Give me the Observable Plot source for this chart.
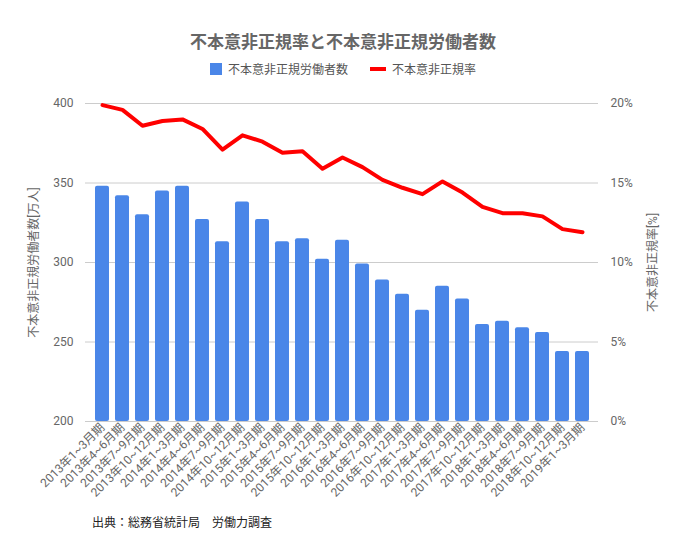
<!DOCTYPE html><html><head><meta charset="utf-8">
<script src="https://cdn.jsdelivr.net/npm/d3@7"></script>
<script src="https://cdn.jsdelivr.net/npm/@observablehq/plot@0.6"></script>
<style>body{margin:0;background:#fff;font-family:Roboto,"Noto Sans CJK JP",sans-serif;width:686px}
#t{text-align:center;font-size:17px;font-weight:bold;color:#666;padding-top:28px;height:32px}
#lg{text-align:center;font-size:12px;color:#555;height:28px}
#lg span{display:inline-block;vertical-align:middle}
#c{font-size:12px;color:#222;padding-left:92px;margin-top:0}</style></head><body>
<div id="t">不本意非正規率と不本意非正規労働者数</div>
<div id="lg"><span style="width:12px;height:12px;background:#4a86e8;margin-right:6px"></span><span>不本意非正規労働者数</span><span style="width:16px;height:4px;background:red;margin:0 6px 0 22px"></span><span>不本意非正規率</span></div>
<div id="p"></div>
<div id="c">出典：総務省統計局　労働力調査</div>
<script>
const quarters=["2013年1~3月期","2013年4~6月期","2013年7~9月期","2013年10~12月期","2014年1~3月期","2014年4~6月期","2014年7~9月期","2014年10~12月期","2015年1~3月期","2015年4~6月期","2015年7~9月期","2015年10~12月期","2016年1~3月期","2016年4~6月期","2016年7~9月期","2016年10~12月期","2017年1~3月期","2017年4~6月期","2017年7~9月期","2017年10~12月期","2018年1~3月期","2018年4~6月期","2018年7~9月期","2018年10~12月期","2019年1~3月期"];
const workers=[348,342,330,345,348,327,313,338,327,313,315,302,314,299,289,280,270,285,277,261,263,259,256,244,244];
const rates=[19.9,19.6,18.6,18.9,19.0,18.4,17.1,18.0,17.6,16.9,17.0,15.9,16.6,16.0,15.2,14.7,14.3,15.1,14.4,13.5,13.1,13.1,12.9,12.1,11.9];
const data=quarters.map((q,i)=>({q,w:workers[i],r:rates[i],rv:200+rates[i]*10}));
const g="#666";
const chart=Plot.plot({width:686,height:425,marginTop:15,marginBottom:92,marginLeft:85,marginRight:88,
 style:{fontSize:"12px",fontFamily:"Roboto,'Noto Sans CJK JP',sans-serif",color:g},
 x:{domain:quarters,padding:0.3,label:null},
 y:{domain:[200,400]},
 marks:[
  Plot.gridY([200,250,300,350,400],{stroke:"#ccc",strokeOpacity:1}),
  Plot.barY(data,{x:"q",y1:200,y2:"w",fill:"#4a86e8",rx:2}),
  Plot.lineY(data,{x:"q",y:"rv",stroke:"red",strokeWidth:4}),
  Plot.axisX({tickRotate:-45,tickSize:0,fill:g,textAnchor:"end",tickPadding:4,label:null}),
  Plot.axisY([200,250,300,350,400],{anchor:"left",tickSize:0,tickPadding:12,fill:g,label:"不本意非正規労働者数[万人]",labelAnchor:"center",labelArrow:false,labelOffset:56}),
  Plot.axisY([200,250,300,350,400],{anchor:"right",tickSize:0,tickPadding:12,fill:g,tickFormat:d=>(d-200)/10+"%",label:"不本意非正規率[%]",labelAnchor:"center",labelArrow:false,labelOffset:58})
 ]});
document.getElementById("p").appendChild(chart);
</script></body></html>
